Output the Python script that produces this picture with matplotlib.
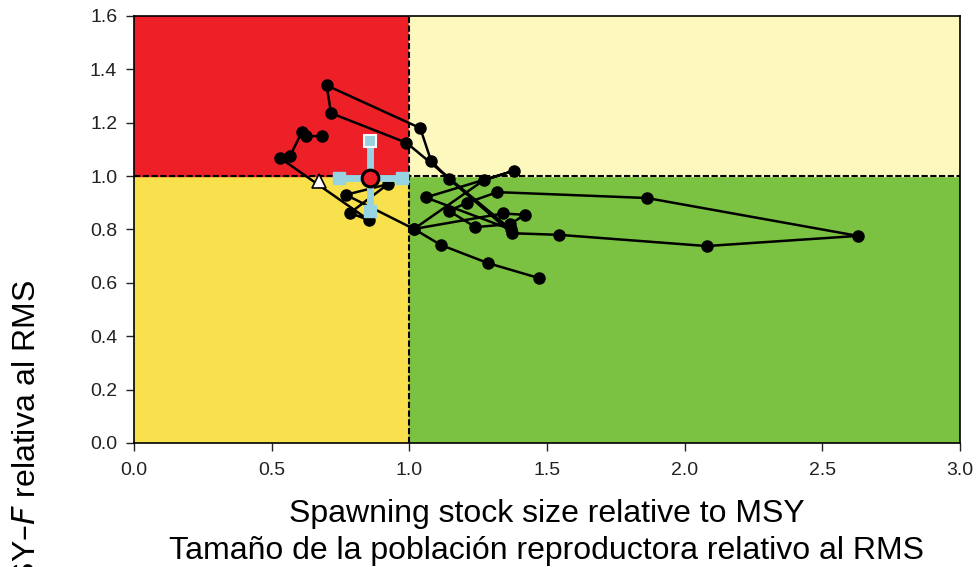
import matplotlib.pyplot as plt

# Trayectoria anual (biomasa reproductora / RMS, F / F_RMS)
ssb_rel = [0.685, 0.627, 0.610, 0.567, 0.531, 0.854, 0.785, 0.923, 0.770, 1.017,
           1.340, 1.420, 1.366, 1.240, 1.144, 1.210, 1.320, 1.863, 2.630, 2.080,
           1.544, 1.373, 1.144, 1.080, 1.040, 0.700, 0.716, 0.990, 1.370, 1.060,
           1.380, 1.270, 1.017, 1.115, 1.286, 1.471]
f_rel = [1.150, 1.150, 1.165, 1.075, 1.068, 0.835, 0.862, 0.970, 0.930, 0.802,
         0.860, 0.855, 0.820, 0.809, 0.870, 0.900, 0.940, 0.918, 0.776, 0.738,
         0.780, 0.786, 0.990, 1.056, 1.180, 1.340, 1.236, 1.125, 0.800, 0.920,
         1.020, 0.984, 0.802, 0.742, 0.674, 0.618]

# primer año y estimación actual con intervalos
first_x, first_y = 0.672, 0.982
cur_x, cur_y = 0.856, 0.993
cur_x_lo, cur_x_hi = 0.745, 0.975
cur_y_lo, cur_y_hi = 0.870, 1.130

xticks = [0.0, 0.5, 1.0, 1.5, 2.0, 2.5, 3.0]
yticks = [0.0, 0.2, 0.4, 0.6, 0.8, 1.0, 1.2, 1.4, 1.6]

plt.rcParams['font.family'] = ['Liberation Sans', 'DejaVu Sans']

fig = plt.figure(figsize=(9.77, 5.67), dpi=100)
ax = fig.add_axes([0.137, 0.2187, 0.8455, 0.7531])

# cuadrantes
ax.axvspan(0, 1, ymin=0, ymax=1 / 1.6, color='#F9E14E', zorder=0)
ax.axvspan(0, 1, ymin=1 / 1.6, ymax=1, color='#ED2028', zorder=0)
ax.axvspan(1, 3, ymin=0, ymax=1 / 1.6, color='#7BC142', zorder=0)
ax.axvspan(1, 3, ymin=1 / 1.6, ymax=1, color='#FDF8BE', zorder=0)
ax.axvline(1, color='black', lw=1.5, ls=(0, (3, 1.2)), zorder=1)
ax.axhline(1, color='black', lw=1.5, ls=(0, (3, 1.2)), zorder=1)

ax.plot(ssb_rel, f_rel, color='black', lw=1.8, marker='o', ms=8, zorder=3)

# intervalos de la estimación actual
ebc = '#97D3E0'
ax.plot([cur_x_lo, cur_x_hi], [cur_y, cur_y], color=ebc, lw=5, solid_capstyle='butt', zorder=4)
ax.plot([cur_x, cur_x], [cur_y_lo, cur_y_hi], color=ebc, lw=5, solid_capstyle='butt', zorder=4)
ax.plot([cur_x_lo, cur_x_hi], [cur_y, cur_y], ls='none', marker='s', ms=8, color=ebc, zorder=4)
ax.plot([cur_x], [cur_y_lo], ls='none', marker='s', ms=8, color=ebc, zorder=4)
ax.plot([cur_x], [cur_y_hi], ls='none', marker='s', ms=8, mfc=ebc, mec='white', mew=1.5, zorder=4)
ax.plot([cur_x], [cur_y], ls='none', marker='o', ms=12, mfc='#ED2028', mec='black', mew=2.2, zorder=5)
ax.plot([first_x], [first_y], ls='none', marker='^', ms=10, mfc='white', mec='black', mew=1.2, zorder=5)

ax.set_xlim(0, 3)
ax.set_ylim(0, 1.6)
ax.set_xticks(xticks)
ax.set_yticks(yticks)
ax.set_xticklabels([f'{v:.1f}' for v in xticks])
ax.set_yticklabels([f'{v:.1f}' for v in yticks])
ax.tick_params(axis='both', labelsize=14, length=6, width=1, colors='#222222')
ax.tick_params(axis='x', pad=8)
ax.tick_params(axis='y', pad=6)
for s in ax.spines.values():
    s.set_linewidth(1.2)

ax.set_xlabel('Spawning stock size relative to MSY\nTamaño de la población reproductora relativo al RMS',
              fontsize=23, labelpad=14, linespacing=1.3)
fig.text(0.028, 0.506, 'F relative to MSY\u2013$F$ relativa al RMS', rotation=90,
         ha='center', va='top', fontsize=23)

fig.savefig('out.png', dpi=100)
